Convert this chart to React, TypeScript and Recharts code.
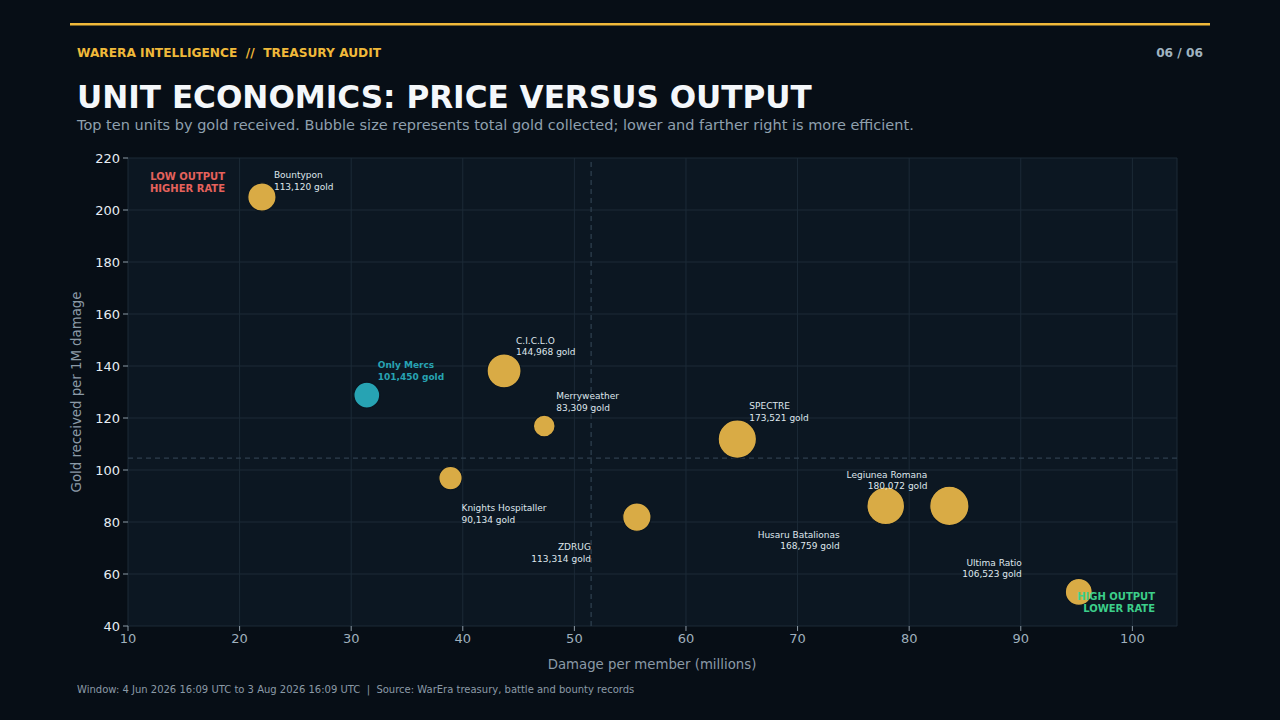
import React from 'react';
import {
  ScatterChart,
  Scatter,
  XAxis,
  YAxis,
  ZAxis,
  CartesianGrid,
  ReferenceLine,
} from 'recharts';

// ---- data ----
const units = [
  'Bountypon',
  'Only Mercs',
  'C.I.C.L.O',
  'Merryweather',
  'Knights Hospitaller',
  'ZDRUG',
  'SPECTRE',
  'Husaru Batalionas',
  'Legiunea Romana',
  'Ultima Ratio',
];
const damagePerMember = [22.0, 31.4, 43.7, 47.3, 38.9, 55.6, 64.6, 77.9, 83.6, 95.2];
const goldPerMillionDamage = [205.0, 128.8, 138.1, 116.9, 96.9, 81.9, 111.9, 86.2, 86.2, 53.1];
const goldReceived = [113120, 101450, 144968, 83309, 90134, 113314, 173521, 168759, 180072, 106523];

const xTicks = [10, 20, 30, 40, 50, 60, 70, 80, 90, 100];
const yTicks = [40, 60, 80, 100, 120, 140, 160, 180, 200, 220];
const medianDamage = 51.5;
const medianRate = 104.6;
const highlightUnit = 'Only Mercs';

// label placement (style): dx, first-line dy, anchor
const labelPlacement: Record<string, { dx: number; dy: number; anchor: 'start' | 'end' }> = {
  'Bountypon': { dx: 12, dy: -22, anchor: 'start' },
  'Only Mercs': { dx: 11, dy: -30, anchor: 'start' },
  'C.I.C.L.O': { dx: 12, dy: -30, anchor: 'start' },
  'Merryweather': { dx: 12, dy: -30, anchor: 'start' },
  'Knights Hospitaller': { dx: 11, dy: 30, anchor: 'start' },
  'ZDRUG': { dx: -46, dy: 30, anchor: 'end' },
  'SPECTRE': { dx: 12, dy: -33, anchor: 'start' },
  'Husaru Batalionas': { dx: -46, dy: 29, anchor: 'end' },
  'Legiunea Romana': { dx: -22, dy: -31, anchor: 'end' },
  'Ultima Ratio': { dx: -57, dy: -29, anchor: 'end' },
};

const chartData = units.map((name, i) => ({
  name,
  x: damagePerMember[i],
  y: goldPerMillionDamage[i],
  z: goldReceived[i],
}));

const FONT = '"DejaVu Sans", Verdana, sans-serif';
const GOLD = '#d9ab45';
const TEAL = '#27a3b3';

const fmt = (n: number) => n.toLocaleString('en-US');

const BubbleShape = (props: any) => {
  const { cx, cy, payload } = props;
  const size = props.size ?? 400;
  const r = props.width ? props.width / 2 : Math.sqrt(size / Math.PI);
  const name = payload.name as string;
  const hl = name === highlightUnit;
  const p = labelPlacement[name];
  const color = hl ? TEAL : GOLD;
  return (
    <g>
      <circle cx={cx} cy={cy} r={r} fill={color} stroke="#0a1520" strokeWidth={1.2} />
      <text
        x={cx + p.dx}
        y={cy + p.dy}
        textAnchor={p.anchor}
        dominantBaseline="central"
        fontFamily={FONT}
        fontSize={9}
        fontWeight={hl ? 700 : 400}
        fill={hl ? TEAL : '#dfe6ec'}
      >
        <tspan x={cx + p.dx}>{name}</tspan>
        <tspan x={cx + p.dx} dy={11.5}>{fmt(payload.z)} gold</tspan>
      </text>
    </g>
  );
};

const pre = { whiteSpace: 'pre' as const };

export default function App() {
  return (
    <div
      style={{
        position: 'absolute',
        left: 0,
        top: 0,
        width: 1280,
        height: 720,
        background: '#070e16',
        overflow: 'hidden',
        fontFamily: FONT,
      }}
    >
      <ScatterChart
        width={1280}
        height={720}
        margin={{ top: 158, right: 103, bottom: 54, left: 78 }}
        style={{ position: 'absolute', left: 0, top: 0 }}
      >
        <CartesianGrid fill="#0c1722" stroke="#1c2a37" strokeWidth={1} />
        <XAxis
          type="number"
          dataKey="x"
          domain={[10, 104]}
          ticks={xTicks}
          allowDataOverflow
          axisLine={false}
          tickLine={{ stroke: '#8c9aa6' }}
          tickSize={5}
          tickMargin={3}
          height={40}
          tick={{ fill: '#9fb0bd', fontSize: 13, fontFamily: FONT }}
        />
        <YAxis
          type="number"
          dataKey="y"
          domain={[40, 220]}
          ticks={yTicks}
          allowDataOverflow
          axisLine={false}
          tickLine={{ stroke: '#8c9aa6' }}
          tickSize={5}
          tickMargin={3}
          width={50}
          tick={{ fill: '#e6edf3', fontSize: 13, fontFamily: FONT }}
        />
        <ZAxis type="number" dataKey="z" domain={[83309, 180072]} range={[370, 1213]} />
        <ReferenceLine x={medianDamage} stroke="#2e3f4e" strokeDasharray="5 4" strokeWidth={1.3} />
        <ReferenceLine y={medianRate} stroke="#2e3f4e" strokeDasharray="5 4" strokeWidth={1.3} />
        <Scatter data={chartData} shape={BubbleShape} isAnimationActive={false} />
      </ScatterChart>

      <svg
        width={1280}
        height={720}
        style={{ position: 'absolute', left: 0, top: 0, pointerEvents: 'none' }}
        fontFamily={FONT}
      >
        <rect x={70} y={23} width={1140} height={2.5} fill="#f0b93a" />
        <text x={77} y={56.5} fontSize={12.2} fontWeight={700} fill="#f0b93a" style={pre}>
          {'WARERA INTELLIGENCE  //  TREASURY AUDIT'}
        </text>
        <text x={1203} y={56.5} fontSize={12.2} fontWeight={700} fill="#9fb3c0" textAnchor="end">
          06 / 06
        </text>
        <text x={77} y={108} fontSize={31.1} fontWeight={700} fill="#f4f7fa">
          UNIT ECONOMICS: PRICE VERSUS OUTPUT
        </text>
        <text x={77} y={130} fontSize={14.5} fill="#8fa0ae">
          Top ten units by gold received. Bubble size represents total gold collected; lower and farther right is more efficient.
        </text>

        <text x={225} y={176} fontSize={10} fontWeight={700} fill="#e5625c" textAnchor="end" dominantBaseline="central">
          <tspan x={225}>LOW OUTPUT</tspan>
          <tspan x={225} dy={12}>HIGHER RATE</tspan>
        </text>
        <text x={1155} y={596} fontSize={10} fontWeight={700} fill="#3ccf8a" textAnchor="end" dominantBaseline="central">
          <tspan x={1155}>HIGH OUTPUT</tspan>
          <tspan x={1155} dy={12}>LOWER RATE</tspan>
        </text>

        <text x={652} y={664} fontSize={13.3} fill="#8b9aa7" textAnchor="middle" dominantBaseline="central">
          Damage per member (millions)
        </text>
        <text
          x={76}
          y={392}
          fontSize={13.3}
          fill="#8b9aa7"
          textAnchor="middle"
          dominantBaseline="central"
          transform="rotate(-90 76 392)"
        >
          Gold received per 1M damage
        </text>
        <text x={77} y={692.5} fontSize={10} fill="#8b9aa7" style={pre}>
          {'Window: 4 Jun 2026 16:09 UTC to 3 Aug 2026 16:09 UTC  |  Source: WarEra treasury, battle and bounty records'}
        </text>
      </svg>
    </div>
  );
}
